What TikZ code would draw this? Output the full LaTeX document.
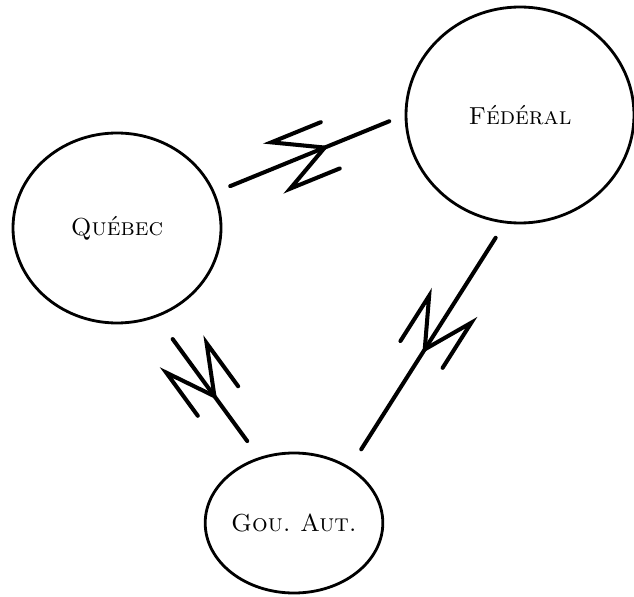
\documentclass[tikz,border=0pt]{standalone}
\usepackage{tikz}
\usetikzlibrary{shapes.geometric, decorations.markings}

\begin{document}
\begin{tikzpicture}[
    etat/.style={ellipse, draw, line width=1.6pt, inner sep=0pt,
                 font=\fontsize{14}{16}\selectfont},
    lien/.style={line width=2.3pt, line cap=round,
                 postaction={decorate, decoration={markings,
                   mark=at position #1 with {\draw[line width=2.3pt, line cap=round,
                       shorten <=0pt, shorten >=0pt]
                     (0.12,0.5) -- (-0.95,0.5) -- (0,0) -- (-0.95,-0.5) -- (0.12,-0.5);}}}},
    lien/.default=0.5]
  \useasboundingbox (0,0) rectangle (12.68,11.92);
  % les trois gouvernements
  \node[etat, minimum width=4.16cm, minimum height=3.8cm] (quebec) at (2.34,7.36) {\textsc{Québec}};
  \node[etat, minimum width=4.56cm, minimum height=4.32cm] (federal) at (10.40,9.62) {\textsc{Fédéral}};
  \node[etat, minimum width=3.28cm, minimum height=2.8cm] (gou) at (5.88,1.46) {\textsc{Gou.\ Aut.}};
  % relations entre eux
  \draw[lien=0.579, shorten <=0.33cm, shorten >=0.33cm] (quebec.20) -- (federal.180);
  \draw[lien=0.565, shorten <=0.54cm, shorten >=0.40cm] (quebec.-66) -- (gou.118);
  \draw[lien=0.517, shorten <=0.34cm, shorten >=0.42cm] (federal.-98) -- (gou.45);
\end{tikzpicture}
\end{document}
